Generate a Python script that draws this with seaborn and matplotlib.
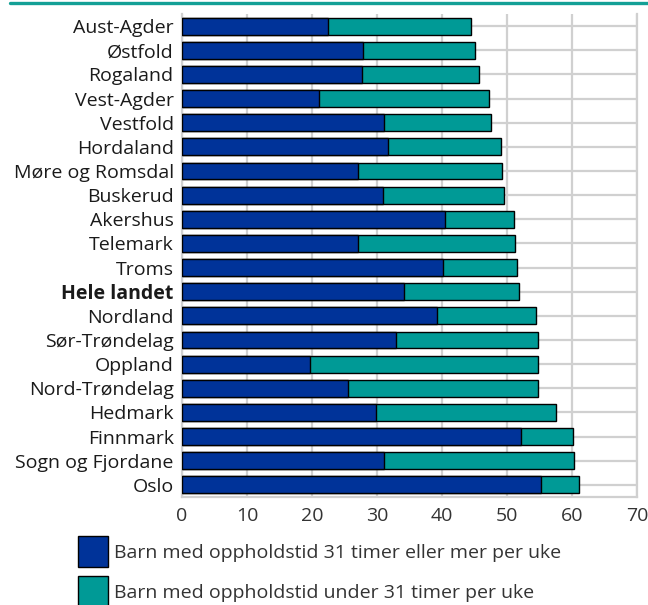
import matplotlib
matplotlib.use("Agg")
import matplotlib.pyplot as plt
import seaborn as sns
import pandas as pd
from matplotlib.lines import Line2D

fylker = ["Aust-Agder", "Østfold", "Rogaland", "Vest-Agder", "Vestfold", "Hordaland",
          "Møre og Romsdal", "Buskerud", "Akershus", "Telemark", "Troms", "Hele landet",
          "Nordland", "Sør-Trøndelag", "Oppland", "Nord-Trøndelag", "Hedmark", "Finnmark",
          "Sogn og Fjordane", "Oslo"]
over31 = [22.4, 27.9, 27.7, 21.1, 31.1, 31.7, 27.0, 30.9, 40.5, 27.1, 40.2, 34.1,
          39.3, 32.9, 19.7, 25.6, 29.9, 52.1, 31.0, 55.3]
total = [44.4, 45.0, 45.7, 47.2, 47.6, 49.0, 49.2, 49.6, 51.1, 51.3, 51.6, 51.8,
         54.5, 54.7, 54.7, 54.7, 57.5, 60.2, 60.3, 61.1]
xticks = [0, 10, 20, 30, 40, 50, 60, 70]
label_over = "Barn med oppholdstid 31 timer eller mer per uke"
label_under = "Barn med oppholdstid under 31 timer per uke"

blue = "#003399"
teal = "#009a96"
gridc = "#d0d0d0"
fs = 14

sns.set_style("white")
plt.rcParams["font.family"] = ["Open Sans", "DejaVu Sans"]

df = pd.DataFrame({"fylke": fylker, "over": over31, "total": total})

fig = plt.figure(figsize=(6.48, 6.05), dpi=100)
ax = fig.add_axes([182/648, 1-497/605, (637-182)/648, (497-14)/605])

sns.barplot(data=df, y="fylke", x="total", color=teal, edgecolor="black",
            linewidth=1.0, width=0.7, saturation=1, ax=ax, orient="h", zorder=3)
sns.barplot(data=df, y="fylke", x="over", color=blue, edgecolor="black",
            linewidth=1.0, width=0.7, saturation=1, ax=ax, orient="h", zorder=4)

ax.set_xlim(0, 70)
ax.set_ylim(len(fylker)-0.5, -0.5)
ax.set_xticks(xticks)
ax.set_xlabel("")
ax.set_ylabel("")
ax.grid(True, color=gridc, linewidth=1.6, zorder=0)
ax.set_axisbelow(True)
for s in ["left", "right", "bottom"]:
    ax.spines[s].set_color(gridc)
    ax.spines[s].set_linewidth(1.6)
ax.spines["top"].set_visible(False)
ax.tick_params(axis="both", length=0, labelsize=fs, labelcolor="#333333")
ax.tick_params(axis="x", pad=7)
ax.tick_params(axis="y", pad=6)
for lab in ax.get_yticklabels():
    lab.set_color("#1a1a1a")
    if lab.get_text() == "Hele landet":
        lab.set_fontweight("bold")

fig.add_artist(Line2D([10/648, 1], [1-2.5/605, 1-2.5/605], color="#14a096",
                      linewidth=2.4, transform=fig.transFigure))

handles = [plt.Rectangle((0, 0), 1, 1, facecolor=blue, edgecolor="black", linewidth=1.0),
           plt.Rectangle((0, 0), 1, 1, facecolor=teal, edgecolor="black", linewidth=1.0)]
fig.legend(handles, [label_over, label_under], loc="upper left",
           bbox_to_anchor=(78/648, 1-536/605), frameon=False, fontsize=fs,
           handlelength=1.55, handleheight=2.08, handletextpad=0.3,
           labelspacing=0.46, borderpad=0, borderaxespad=0, labelcolor="#333333")

fig.savefig("out.png", dpi=100)
